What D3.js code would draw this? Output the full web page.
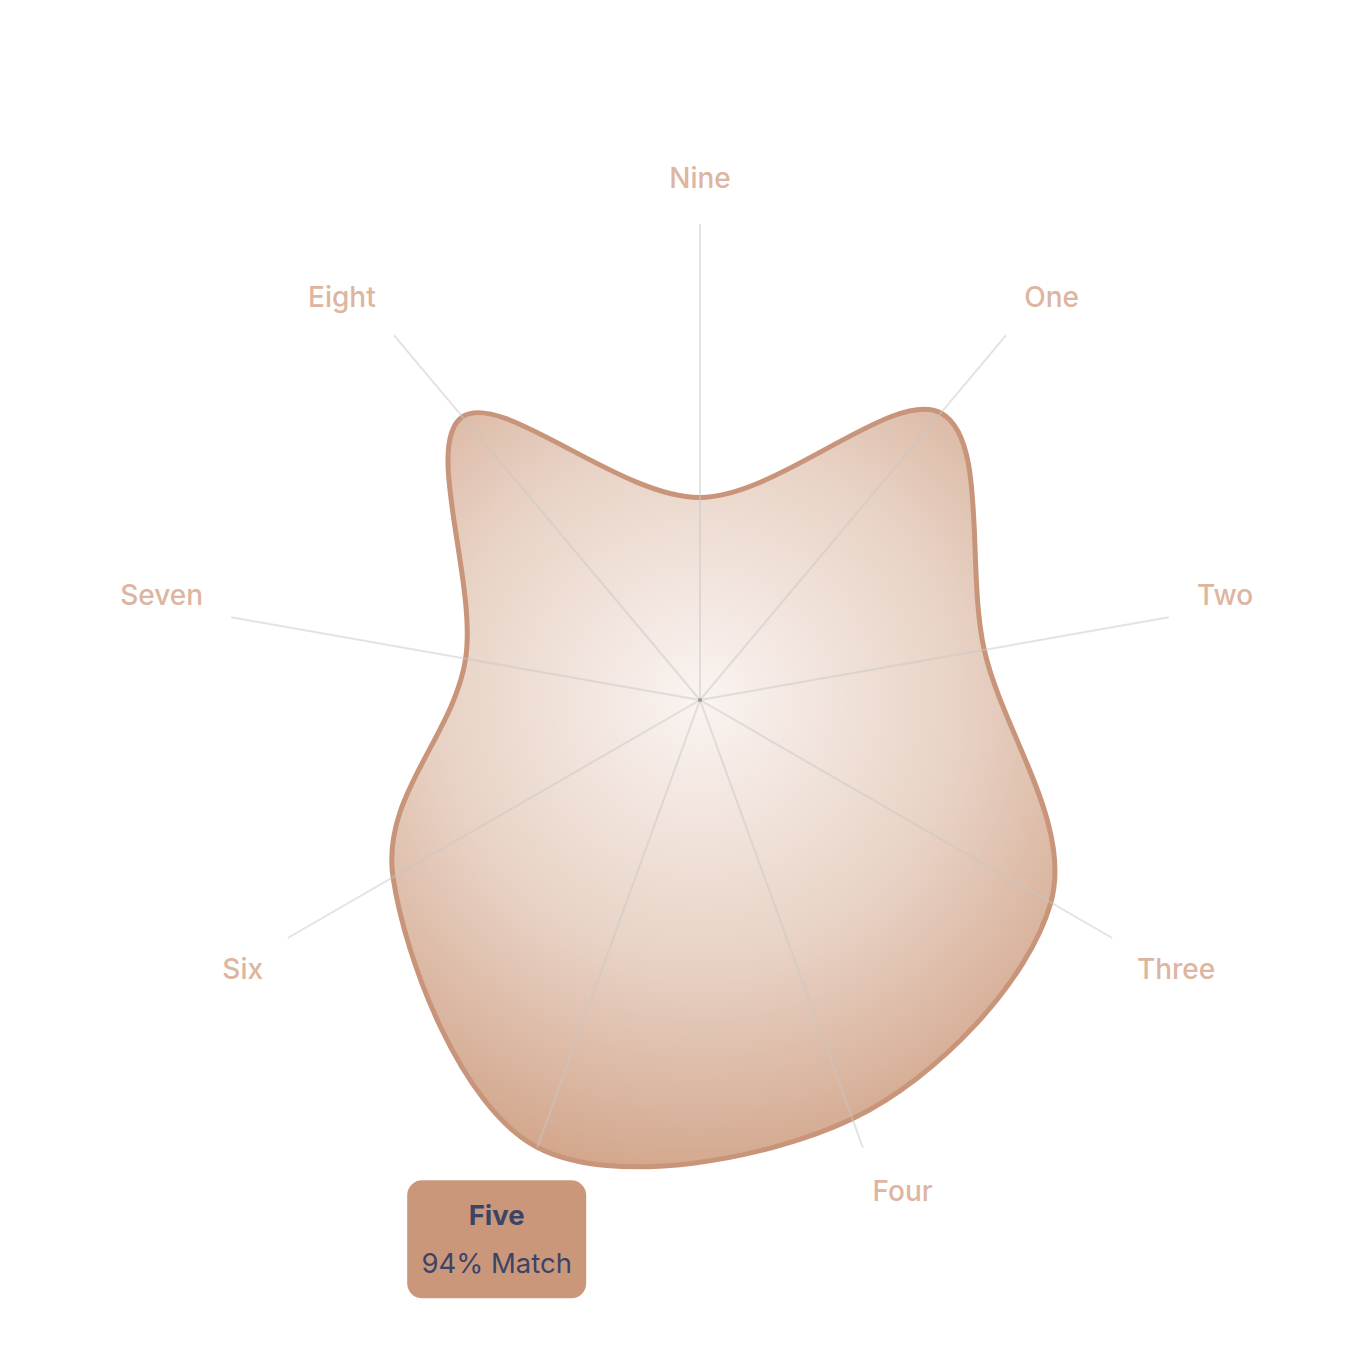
<!DOCTYPE html>
<html>
<head>
<meta charset="utf-8">
<script src="https://cdn.jsdelivr.net/npm/d3@7"></script>
<style>
  body { margin: 0; background: #fff; }
  svg { display: block; }
</style>
</head>
<body>
<svg id="chart"></svg>
<script>
// Enneagram type match scores
const types = ["Nine", "One", "Two", "Three", "Four", "Five", "Six", "Seven", "Eight"];
const scores = [40, 74, 57, 80, 88, 94, 70, 47, 73];
const highlighted = "Five";

const width = 1372;
const height = 1372;
const cx = 700;
const cy = 700;
const radius = 476;

const svg = d3.select("#chart")
  .attr("width", width)
  .attr("height", height);

const defs = svg.append("defs");
// gradient lives in the translated group's space, so centre is 0,0
const grad = defs.append("radialGradient")
  .attr("id", "fillGrad")
  .attr("gradientUnits", "userSpaceOnUse")
  .attr("cx", 0).attr("cy", 0).attr("r", radius);
grad.append("stop").attr("offset", "0%").attr("stop-color", "#faf4f1");
grad.append("stop").attr("offset", "55%").attr("stop-color", "#e8d2c5");
grad.append("stop").attr("offset", "100%").attr("stop-color", "#d3a78d");

const g = svg.append("g").attr("transform", `translate(${cx},${cy})`);

const angle = d3.scalePoint()
  .domain(types)
  .range([0, 2 * Math.PI * (types.length - 1) / types.length]);

const r = d3.scaleLinear()
  .domain([0, d3.max(scores)])
  .range([0, radius]);

const px = (a, d) => d * Math.sin(a);
const py = (a, d) => -d * Math.cos(a);

// shape
const line = d3.lineRadial()
  .angle((d, i) => angle(types[i]))
  .radius(d => r(d))
  .curve(d3.curveCardinalClosed);

g.append("path")
  .datum(scores)
  .attr("d", line)
  .attr("fill", "url(#fillGrad)")
  .attr("stroke", "#c9957a")
  .attr("stroke-width", 5)
  .attr("stroke-linejoin", "round");

// axis spokes, drawn over the fill
g.selectAll(".spoke")
  .data(types)
  .enter()
  .append("line")
  .attr("class", "spoke")
  .attr("x1", 0).attr("y1", 0)
  .attr("x2", d => px(angle(d), radius))
  .attr("y2", d => py(angle(d), radius))
  .style("stroke", "#c8c8c8")
  .style("stroke-opacity", 0.5)
  .style("stroke-width", 2);

g.append("circle").attr("r", 2).style("fill", "#999");

// labels
const labelR = radius * 1.06;
g.selectAll(".label")
  .data(types.filter(t => t !== highlighted))
  .enter()
  .append("text")
  .attr("class", "label")
  .attr("x", d => px(angle(d), labelR))
  .attr("y", d => py(angle(d), labelR) + (Math.cos(angle(d)) > 0 ? -7 : 27))
  .attr("text-anchor", d => {
    const s = Math.sin(angle(d));
    return Math.abs(s) < 0.01 ? "middle" : s > 0 ? "start" : "end";
  })
  .style("font-family", "Inter, 'Liberation Sans', sans-serif")
  .style("font-size", "28px")
  .style("font-weight", 500)
  .style("fill", "#ddb5a0")
  .text(d => d);

// tooltip for the highlighted type
const hi = types.indexOf(highlighted);
const ha = angle(highlighted);
const hx = px(ha, r(scores[hi]));
const hy = py(ha, r(scores[hi]));
const tip = g.append("g").attr("transform", `translate(${hx - 130},${hy + 33})`);
tip.append("rect")
  .attr("width", 179).attr("height", 118).attr("rx", 15)
  .style("fill", "#ca977b");
tip.append("text")
  .attr("x", 89.5).attr("y", 45)
  .attr("text-anchor", "middle")
  .style("font-family", "Inter, 'Liberation Sans', sans-serif")
  .style("font-size", "27.5px")
  .style("font-weight", 700)
  .style("fill", "#3c4466")
  .text(highlighted);
tip.append("text")
  .attr("x", 89.5).attr("y", 93)
  .attr("text-anchor", "middle")
  .style("font-family", "Inter, 'Liberation Sans', sans-serif")
  .style("font-size", "27.5px")
  .style("font-weight", 400)
  .style("fill", "#3c4466")
  .text(`${scores[hi]}% Match`);
</script>
</body>
</html>
